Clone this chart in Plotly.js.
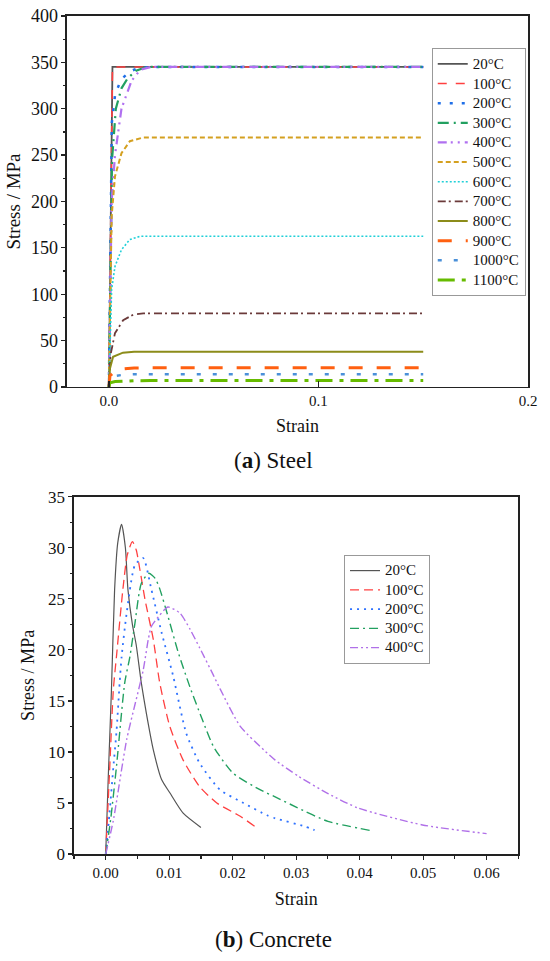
<!DOCTYPE html>
<html>
<head>
<meta charset="utf-8">
<script src="https://cdn.plot.ly/plotly-3.0.1.min.js"></script>
<style>html,body{margin:0;padding:0;background:#fff;}#chart{width:550px;height:961px;}</style>
</head>
<body>
<div id="chart"></div>
<script>
// ---------- (a) Steel ----------
const steelLabels = ['20°C','100°C','200°C','300°C','400°C','500°C','600°C','700°C','800°C','900°C','1000°C','1100°C'];
const steel20x  = [0, 0.0017, 0.15];
const steel20y  = [0, 345, 345];
const steel100x = [0, 0.0017, 0.15];
const steel100y = [0, 345, 345];
const steel200x = [0, 0.0014, 0.003, 0.006, 0.01, 0.014, 0.02, 0.15];
const steel200y = [0, 285, 316, 332, 340, 344, 345, 345];
const steel300x = [0, 0.001, 0.0015, 0.0033, 0.006, 0.009, 0.013, 0.018, 0.15];
const steel300y = [0, 200, 245, 300, 322, 333, 341, 345, 345];
const steel400x = [0, 0.001, 0.0013, 0.0029, 0.006, 0.0108, 0.015, 0.02, 0.15];
const steel400y = [0, 145, 200, 250, 300, 330, 342, 345, 345];
const steel500x = [0, 0.0009, 0.0013, 0.0029, 0.006, 0.01, 0.0164, 0.02, 0.15];
const steel500y = [0, 124, 184, 227, 252, 265, 269, 269, 269];
const steel600x = [0, 0.0009, 0.0013, 0.0029, 0.006, 0.01, 0.015, 0.02, 0.15];
const steel600y = [0, 62, 105, 130, 148, 159, 162.5, 162.5, 162.5];
const steel700x = [0, 0.0008, 0.0029, 0.0068, 0.0116, 0.0164, 0.02, 0.15];
const steel700y = [0, 35, 58, 72, 78, 79.4, 79.4, 79.4];
const steel800x = [0, 0.0005, 0.002, 0.0067, 0.012, 0.02, 0.15];
const steel800y = [0, 20, 32.5, 37, 38, 38, 38];
const steel900x = [0, 0.0005, 0.003, 0.007, 0.012, 0.02, 0.15];
const steel900y = [0, 12, 17, 19.5, 20.5, 20.7, 20.7];
const steel1000x = [0, 0.0005, 0.003, 0.007, 0.012, 0.02, 0.15];
const steel1000y = [0, 9, 12, 13.2, 13.7, 13.8, 13.8];
const steel1100x = [0, 0.0005, 0.003, 0.007, 0.012, 0.02, 0.15];
const steel1100y = [0, 4.5, 5.8, 6.5, 6.8, 6.9, 6.9];
const steelTicks = [0, 0.1, 0.2];

// ---------- (b) Concrete ----------
const concLabels = ['20°C','100°C','200°C','300°C','400°C'];
const conc20x  = [0, 0.0004, 0.0009, 0.0014, 0.0019, 0.0025, 0.0031, 0.0035, 0.0042, 0.0048, 0.0056, 0.0064, 0.0075, 0.0088, 0.0101, 0.0122, 0.015];
const conc20y  = [0, 7.5, 16, 25.9, 30.5, 32.3, 30, 25.9, 22.5, 20.5, 16.8, 13.8, 10.2, 7.3, 6.0, 4.0, 2.6];
const conc100x = [0, 0.0006, 0.0012, 0.0017, 0.0027, 0.0034, 0.0042, 0.0048, 0.0054, 0.0062, 0.0075, 0.0085, 0.0101, 0.0122, 0.0148, 0.0175, 0.0212, 0.0235];
const conc100y = [0, 8, 16.1, 19.4, 25.9, 29.3, 30.6, 29.8, 27.8, 24.9, 21, 16.8, 12.5, 9.2, 6.6, 5.0, 3.7, 2.7];
const conc200x = [0, 0.0006, 0.0012, 0.0017, 0.0022, 0.0025, 0.0033, 0.0046, 0.0059, 0.0072, 0.0088, 0.0106, 0.0127, 0.0148, 0.018, 0.0217, 0.0254, 0.0267, 0.0314, 0.0329];
const conc200y = [0, 4, 8.5, 12, 16.8, 19.3, 23.6, 28.3, 29, 25.9, 21.7, 17.5, 11.8, 8.9, 6.3, 5.0, 3.8, 3.5, 2.7, 2.35];
const conc300x = [0, 0.0008, 0.0017, 0.003, 0.0038, 0.0046, 0.0056, 0.0068, 0.0078, 0.0085, 0.0098, 0.0114, 0.0133, 0.0152, 0.017, 0.0201, 0.0243, 0.0267, 0.03, 0.035, 0.0422];
const conc300y = [0, 3.5, 8.6, 16.8, 19.3, 22.6, 26.5, 27.5, 27, 26, 23.3, 19.8, 16.3, 13.2, 10.5, 7.9, 6.3, 5.6, 4.6, 3.2, 2.25];
const conc400x = [0, 0.0012, 0.0033, 0.0059, 0.0067, 0.0072, 0.0085, 0.0098, 0.0117, 0.0133, 0.0148, 0.0169, 0.018, 0.0212, 0.0249, 0.0267, 0.0304, 0.0351, 0.0398, 0.0499, 0.06];
const conc400y = [0, 3.3, 11.2, 18, 21, 22.3, 23.4, 24.2, 23.6, 22, 20.2, 17.6, 16.2, 12.5, 10.2, 9.2, 7.6, 5.9, 4.5, 2.85, 2.0];
const concTicks = [0, 0.01, 0.02, 0.03, 0.04, 0.05, 0.06];

const serif = 'Liberation Serif';

const steelX = [steel20x, steel100x, steel200x, steel300x, steel400x, steel500x, steel600x, steel700x, steel800x, steel900x, steel1000x, steel1100x];
const steelY = [steel20y, steel100y, steel200y, steel300y, steel400y, steel500y, steel600y, steel700y, steel800y, steel900y, steel1000y, steel1100y];
const steelStyle = [
  {color:'#555555', width:1.8, dash:'solid'},
  {color:'#ff4040', width:1.6, dash:'9px,9px'},
  {color:'#1f6fe8', width:2.5, dash:'3px,9px'},
  {color:'#22a060', width:2.2, dash:'11px,5px,2px,5px'},
  {color:'#b070f0', width:2.2, dash:'9px,4px,2px,5px,2px,5px'},
  {color:'#d4a020', width:2, dash:'5px,3px'},
  {color:'#20d0d8', width:1.6, dash:'2px,2px'},
  {color:'#6b3a3a', width:1.8, dash:'8px,3px,2px,4px'},
  {color:'#8c8c1a', width:2, dash:'solid'},
  {color:'#ff6010', width:3, dash:'14px,14px'},
  {color:'#4a90d9', width:2.5, dash:'4px,12px'},
  {color:'#66bb00', width:3, dash:'17px,7px,4px,7px'}
];
const concX = [conc20x, conc100x, conc200x, conc300x, conc400x];
const concY = [conc20y, conc100y, conc200y, conc300y, conc400y];
const concStyle = [
  {color:'#555555', width:1.2, dash:'solid'},
  {color:'#ff4040', width:1.3, dash:'9px,5px'},
  {color:'#2f72ff', width:1.8, dash:'2px,5px'},
  {color:'#22a060', width:1.4, dash:'9px,4px,2px,4px'},
  {color:'#b070e8', width:1.4, dash:'8px,3px,2px,3px,2px,3px'}
];

const big = s => '<span style="font-size:15px">' + s + '</span>';

const traces = [];
steelLabels.forEach((name, i) => {
  traces.push({x: steelX[i], y: steelY[i], name: big(name), type:'scatter', mode:'lines',
    line: steelStyle[i], xaxis:'x', yaxis:'y', legend:'legend'});
});
concLabels.forEach((name, i) => {
  traces.push({x: concX[i], y: concY[i], name: big(name), type:'scatter', mode:'lines',
    line: Object.assign({shape:'spline', smoothing:0.6}, concStyle[i]), xaxis:'x2', yaxis:'y2', legend:'legend2'});
});

const axisBase = {showline:true, mirror:true, linecolor:'#222', linewidth:1.5,
  showgrid:false, zeroline:false, tickcolor:'#222', tickwidth:1.2,
  tickfont:{family:serif, size:15, color:'#111'}};

const layout = {
  width:550, height:961, margin:{l:0,r:0,t:0,b:0},
  paper_bgcolor:'#fff', plot_bgcolor:'#fff', showlegend:true,
  font:{family:serif, color:'#111'},
  xaxis: Object.assign({}, axisBase, {domain:[0.1218,0.96], range:[-0.02,0.2], anchor:'y',
    tickvals:steelTicks, tickformat:'.1f', ticks:'inside', ticklen:6,
    tickfont:{family:serif, size:15, color:'#111'},
    title:{text:'Strain', font:{family:serif, size:18, color:'#111'}, standoff:11}}),
  yaxis: Object.assign({}, axisBase, {domain:[0.5973,0.9834], range:[0,400], anchor:'x',
    dtick:50, tick0:0, ticks:'outside', ticklen:4,
    minor:{dtick:25, ticks:'outside', ticklen:2.5, tickcolor:'#222'},
    tickfont:{family:serif, size:18, color:'#111'},
    title:{text:'Stress / MPa', font:{family:serif, size:19, color:'#111'}, standoff:5}}),
  xaxis2: Object.assign({}, axisBase, {domain:[0.1345,0.9424], range:[-0.005,0.065], anchor:'y2',
    tickvals:concTicks, tickformat:'.2f', ticks:'outside', ticklen:4,
    minor:{dtick:0.005, tick0:0, ticks:'outside', ticklen:3, tickcolor:'#222'},
    tickfont:{family:serif, size:15, color:'#111'},
    title:{text:'Strain', font:{family:serif, size:18, color:'#111'}, standoff:13}}),
  yaxis2: Object.assign({}, axisBase, {domain:[0.1113,0.4831], range:[0,35], anchor:'x2',
    dtick:5, tick0:0, ticks:'outside', ticklen:4,
    minor:{dtick:2.5, ticks:'outside', ticklen:2.5, tickcolor:'#222'},
    tickfont:{family:serif, size:17, color:'#111'},
    title:{text:'Stress / MPa', font:{family:serif, size:18, color:'#111'}, standoff:9}}),
  legend:{x:0.785, y:0.95, xanchor:'left', yanchor:'top', bgcolor:'#fff',
    bordercolor:'#999', borderwidth:1, font:{family:serif, size:12.8, color:'#111'}, tracegroupgap:0},
  legend2:{x:0.6255, y:0.4225, xanchor:'left', yanchor:'top', bgcolor:'#fff',
    bordercolor:'#999', borderwidth:1, font:{family:serif, size:12.5, color:'#111'}, tracegroupgap:0},
  annotations:[
    {text:'(<b>a</b>) Steel', xref:'paper', yref:'paper', x:0.497, y:0.5213, xanchor:'center', yanchor:'middle',
     showarrow:false, font:{family:serif, size:23, color:'#111'}},
    {text:'(<b>b</b>) Concrete', xref:'paper', yref:'paper', x:0.498, y:0.0219, xanchor:'center', yanchor:'middle',
     showarrow:false, font:{family:serif, size:23, color:'#111'}}
  ]
};

Plotly.newPlot('chart', traces, layout, {staticPlot:true, displayModeBar:false});
</script>
</body>
</html>
